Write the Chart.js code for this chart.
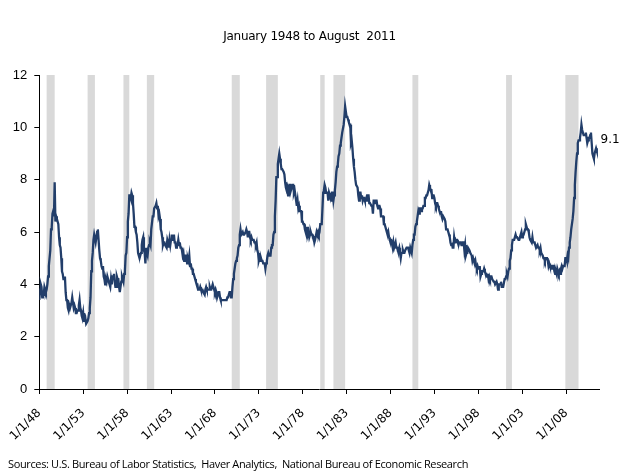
<!DOCTYPE html>
<html>
<head>
<meta charset="utf-8">
<script src="https://cdn.jsdelivr.net/npm/chart.js@4.4.1/dist/chart.umd.min.js"></script>
<style>
  html, body { margin: 0; padding: 0; background: #fff; }
  #wrap { position: relative; width: 619px; height: 476px; }
  #c { position: absolute; left: 0; top: 0; }
  #title { position: absolute; left: 0; width: 619px; top: 28px; text-align: center; line-height: 16px;
    font-family: "DejaVu Sans", sans-serif; font-size: 12px; color: #000; white-space: pre; letter-spacing: -0.25px; }
  #src { position: absolute; left: 8px; top: 456px; line-height: 15px;
    font-family: "Open Sans", sans-serif; font-size: 11px; color: #000; white-space: pre; letter-spacing: -0.36px; }
</style>
</head>
<body>
<div id="wrap">
  <canvas id="c" width="619" height="476"></canvas>
  <div id="title">January 1948 to August  2011</div>
  <div id="src">Sources: U.S. Bureau of Labor Statistics,  Haver Analytics,  National Bureau of Economic Research</div>
</div>
<script>
// Monthly US unemployment rate (%), January 1948 .. August 2011
const startYear = 1948;
const unemployment = [
  3.4,3.8,4.0,3.9,3.5,3.6,3.6,3.9,3.8,3.7,3.8,4.0,
  4.3,4.7,5.0,5.3,6.1,6.2,6.7,6.8,6.6,7.9,6.4,6.6,
  6.5,6.4,6.3,5.8,5.5,5.4,5.0,4.5,4.4,4.2,4.2,4.3,
  3.7,3.4,3.4,3.1,3.0,3.2,3.1,3.1,3.3,3.5,3.5,3.1,
  3.2,3.1,2.9,2.9,3.0,3.0,3.2,3.4,3.1,3.0,2.8,2.7,
  2.9,2.6,2.6,2.7,2.5,2.5,2.6,2.7,2.9,3.1,3.5,4.5,
  4.9,5.2,5.7,5.9,5.9,5.6,5.8,6.0,6.1,5.7,5.3,5.0,
  4.9,4.7,4.6,4.7,4.3,4.2,4.0,4.2,4.1,4.3,4.2,4.2,
  4.0,3.9,4.2,4.0,4.3,4.3,4.4,4.1,3.9,3.9,4.3,4.2,
  4.2,3.9,3.7,3.9,4.1,4.3,4.2,4.1,4.4,4.5,5.1,5.2,
  5.8,6.4,6.7,7.4,7.4,7.3,7.5,7.4,7.1,6.7,6.2,6.2,
  6.0,5.9,5.6,5.2,5.1,5.0,5.1,5.2,5.5,5.7,5.8,5.3,
  5.2,4.8,5.4,5.2,5.1,5.4,5.5,5.6,5.5,6.1,6.1,6.6,
  6.6,6.9,6.9,7.0,7.1,6.9,7.0,6.6,6.7,6.5,6.1,6.0,
  5.8,5.5,5.6,5.6,5.5,5.5,5.4,5.7,5.6,5.4,5.7,5.5,
  5.7,5.9,5.7,5.7,5.9,5.6,5.6,5.4,5.5,5.5,5.7,5.5,
  5.6,5.4,5.4,5.3,5.1,5.2,4.9,5.0,5.1,5.1,4.8,5.0,
  4.9,5.1,4.7,4.8,4.6,4.6,4.4,4.4,4.3,4.2,4.1,4.0,
  4.0,3.8,3.8,3.8,3.9,3.8,3.8,3.8,3.7,3.7,3.6,3.8,
  3.9,3.8,3.8,3.8,3.8,3.9,3.8,3.8,3.8,4.0,3.9,3.8,
  3.7,3.8,3.7,3.5,3.5,3.7,3.7,3.5,3.4,3.4,3.4,3.4,
  3.4,3.4,3.4,3.4,3.4,3.5,3.5,3.5,3.7,3.7,3.5,3.5,
  3.9,4.2,4.4,4.6,4.8,4.9,5.0,5.1,5.4,5.5,5.9,6.1,
  5.9,5.9,6.0,5.9,5.9,5.9,6.0,6.1,6.0,5.8,6.0,6.0,
  5.8,5.7,5.8,5.7,5.7,5.7,5.6,5.6,5.5,5.6,5.3,5.2,
  4.9,5.0,4.9,5.0,4.9,4.9,4.8,4.8,4.8,4.6,4.8,4.9,
  5.1,5.2,5.1,5.1,5.1,5.4,5.5,5.5,5.9,6.0,6.6,7.2,
  8.1,8.1,8.6,8.8,9.0,8.8,8.6,8.4,8.4,8.4,8.3,8.2,
  7.9,7.7,7.6,7.7,7.4,7.6,7.8,7.8,7.6,7.7,7.8,7.8,
  7.5,7.6,7.4,7.2,7.0,7.2,6.9,7.0,6.8,6.8,6.8,6.4,
  6.4,6.3,6.3,6.1,6.0,5.9,6.2,5.9,6.0,5.8,5.9,6.0,
  5.9,5.9,5.8,5.8,5.6,5.7,5.7,6.0,5.9,6.0,5.9,6.0,
  6.3,6.3,6.3,6.9,7.5,7.6,7.8,7.7,7.5,7.5,7.5,7.2,
  7.5,7.4,7.4,7.2,7.5,7.5,7.2,7.4,7.6,7.9,8.3,8.5,
  8.6,8.9,9.0,9.3,9.4,9.6,9.8,9.8,10.1,10.4,10.8,10.8,
  10.4,10.4,10.3,10.2,10.1,10.1,9.4,9.5,9.2,8.8,8.5,8.3,
  8.0,7.8,7.8,7.7,7.4,7.2,7.5,7.5,7.3,7.4,7.2,7.3,
  7.3,7.2,7.2,7.3,7.2,7.4,7.4,7.1,7.1,7.1,7.0,7.0,
  6.7,7.2,7.2,7.1,7.2,7.2,7.0,6.9,7.0,7.0,6.9,6.6,
  6.6,6.6,6.6,6.3,6.3,6.2,6.1,6.0,5.9,6.0,5.8,5.7,
  5.7,5.7,5.7,5.4,5.6,5.4,5.4,5.6,5.4,5.4,5.3,5.3,
  5.4,5.2,5.0,5.2,5.2,5.3,5.2,5.2,5.3,5.3,5.4,5.4,
  5.4,5.3,5.2,5.4,5.4,5.2,5.5,5.7,5.9,5.9,6.2,6.3,
  6.4,6.6,6.8,6.7,6.9,6.9,6.8,6.9,6.9,7.0,7.0,7.3,
  7.3,7.4,7.4,7.4,7.6,7.8,7.7,7.6,7.6,7.3,7.4,7.4,
  7.3,7.1,7.0,7.1,7.1,7.0,6.9,6.8,6.7,6.8,6.6,6.5,
  6.6,6.6,6.5,6.4,6.1,6.1,6.1,6.0,5.9,5.8,5.6,5.5,
  5.6,5.4,5.4,5.8,5.6,5.6,5.7,5.7,5.6,5.5,5.6,5.6,
  5.6,5.5,5.5,5.6,5.6,5.3,5.5,5.1,5.2,5.2,5.4,5.4,
  5.3,5.2,5.2,5.1,4.9,5.0,4.9,4.8,4.9,4.7,4.6,4.7,
  4.6,4.6,4.7,4.3,4.4,4.5,4.5,4.5,4.6,4.5,4.4,4.4,
  4.3,4.4,4.2,4.3,4.2,4.3,4.3,4.2,4.2,4.1,4.1,4.0,
  4.0,4.1,4.0,3.8,4.0,4.0,4.0,4.1,3.9,3.9,3.9,3.9,
  4.2,4.2,4.3,4.4,4.3,4.5,4.6,4.9,5.0,5.3,5.5,5.7,
  5.7,5.7,5.7,5.9,5.8,5.8,5.8,5.7,5.7,5.7,5.9,6.0,
  5.8,5.9,5.9,6.0,6.1,6.3,6.2,6.1,6.1,6.0,5.8,5.7,
  5.7,5.6,5.8,5.6,5.6,5.6,5.5,5.4,5.4,5.5,5.4,5.4,
  5.3,5.4,5.2,5.2,5.1,5.0,5.0,4.9,5.0,5.0,5.0,4.9,
  4.7,4.8,4.7,4.7,4.6,4.6,4.7,4.7,4.5,4.4,4.5,4.4,
  4.6,4.5,4.4,4.5,4.4,4.6,4.7,4.6,4.7,4.7,4.7,5.0,
  5.0,4.9,5.1,5.0,5.4,5.6,5.8,6.1,6.1,6.5,6.8,7.3,
  7.8,8.3,8.7,9.0,9.4,9.5,9.5,9.6,9.8,10.1,9.9,9.9,
  9.7,9.7,9.7,9.8,9.6,9.4,9.5,9.6,9.6,9.7,9.8,9.4,
  9.0,8.9,8.8,9.0,9.1,9.2,9.1,9.1
];
// NBER recessions (peak month, trough month)
const recessionStart = ['1948-11','1953-07','1957-08','1960-04','1969-12','1973-11','1980-01','1981-07','1990-07','2001-03','2007-12'];
const recessionEnd   = ['1949-10','1954-05','1958-04','1961-02','1970-11','1975-03','1980-07','1982-11','1991-03','2001-11','2009-06'];
// x-axis tick labels, every 60 months from Jan 1948
const tickLabels = ['1/1/48','1/1/53','1/1/58','1/1/63','1/1/68','1/1/73','1/1/78','1/1/83','1/1/88','1/1/93','1/1/98','1/1/03','1/1/08'];
const endLabel = '9.1';

const monthIndex = s => { const [y, m] = s.split('-').map(Number); return (y - startYear) * 12 + (m - 1); };

const bands = {
  id: 'bands',
  beforeDatasetsDraw(chart) {
    const { ctx, chartArea, scales: { x } } = chart;
    ctx.save();
    ctx.fillStyle = '#D9D9D9';
    recessionStart.forEach((s, i) => {
      const x1 = x.getPixelForValue(monthIndex(s));
      const x2 = x.getPixelForValue(monthIndex(recessionEnd[i]));
      ctx.fillRect(x1, chartArea.top, x2 - x1, chartArea.bottom - chartArea.top);
    });
    ctx.restore();
  }
};
const lastLabel = {
  id: 'lastLabel',
  afterDatasetsDraw(chart) {
    const { ctx, scales: { x, y } } = chart;
    const i = unemployment.length - 1;
    const px = x.getPixelForValue(i), py = y.getPixelForValue(unemployment[i]);
    ctx.save();
    ctx.font = '12px "DejaVu Sans", sans-serif';
    ctx.fillStyle = '#000';
    ctx.textAlign = 'left';
    ctx.textBaseline = 'middle';
    ctx.fillText(endLabel, px + 3, py - 11);
    ctx.restore();
  }
};

new Chart(document.getElementById('c'), {
  type: 'line',
  data: {
    datasets: [{
      data: unemployment.map((v, i) => ({ x: i, y: v })),
      borderColor: '#223E6A',
      borderWidth: 2.3,
      pointRadius: 0,
      tension: 0,
      fill: false
    }]
  },
  options: {
    responsive: false,
    animation: false,
    events: [],
    layout: { padding: { left: 0, right: 20, top: 75, bottom: 0 } },
    plugins: { legend: { display: false }, tooltip: { enabled: false }, title: { display: false } },
    scales: {
      x: {
        type: 'linear',
        min: 0, max: 765,
        afterFit(s) { s.height = 87; },
        border: { color: '#000', width: 1 },
        grid: { drawOnChartArea: false, drawTicks: true, tickLength: 5, color: '#000' },
        ticks: {
          stepSize: 60, includeBounds: false, autoSkip: false,
          maxRotation: 45, minRotation: 45, padding: 12,
          color: '#000', font: { family: '"DejaVu Sans", sans-serif', size: 12 },
          callback: v => tickLabels[Math.round(v / 60)]
        }
      },
      y: {
        min: 0, max: 12,
        afterFit(s) { s.width = 39; },
        border: { color: '#000', width: 1 },
        grid: { drawOnChartArea: false, drawTicks: true, tickLength: 5, color: '#000' },
        ticks: { stepSize: 2, padding: 7, color: '#000', font: { family: '"Liberation Sans", sans-serif', size: 13 } }
      }
    }
  },
  plugins: [bands, lastLabel]
});
</script>
</body>
</html>
